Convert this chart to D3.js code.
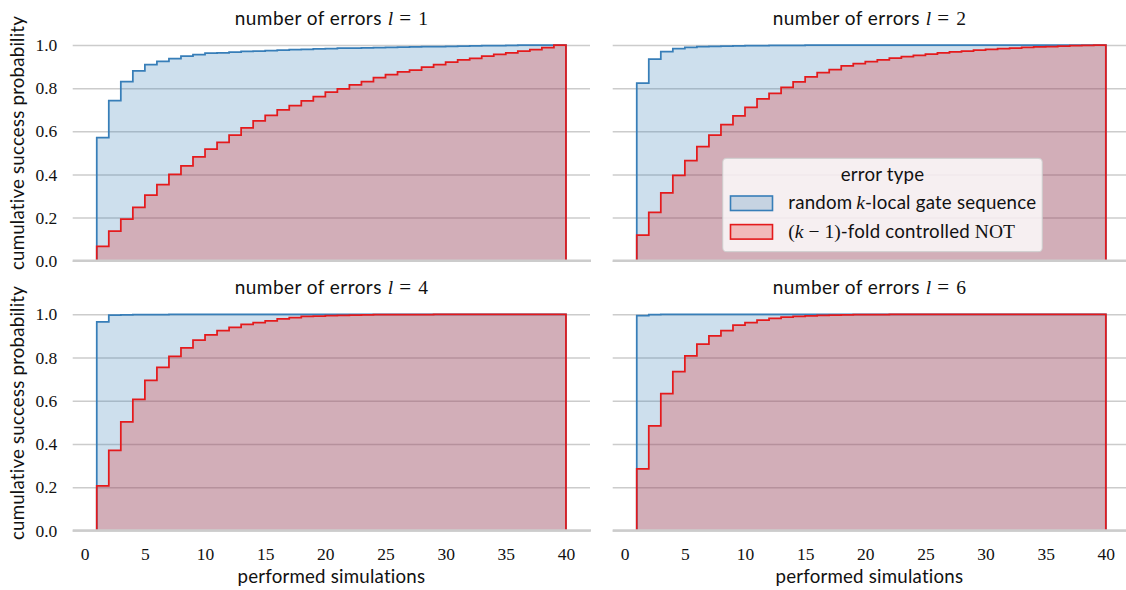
<!DOCTYPE html>
<html>
<head>
<meta charset="utf-8">
<script src="https://cdn.jsdelivr.net/npm/d3@7"></script>
<style>
  html, body { margin: 0; padding: 0; background: #fff; }
  svg { display: block; }
</style>
</head>
<body>
<div id="chart"></div>
<script>
// ---------------- data ----------------
const binStarts = d3.range(1, 40);           // bins [k, k+1], k = 1..39
const binEnd = 40;
const xTicks = [0, 5, 10, 15, 20, 25, 30, 35, 40];
const yTicks = [0.0, 0.2, 0.4, 0.6, 0.8, 1.0];
const errorCounts = [1, 2, 4, 6];
const seriesNames = ["random k-local gate sequence", "(k − 1)-fold controlled NOT"];

const blueL1 = [0.571,0.742,0.830,0.880,0.909,0.924,0.937,0.949,0.955,0.962,
                0.964,0.967,0.970,0.972,0.974,0.976,0.978,0.980,0.982,0.983,
                0.985,0.986,0.987,0.988,0.989,0.990,0.991,0.992,0.993,0.994,
                0.995,0.996,0.997,0.997,0.998,0.999,0.999,1.0,1.0];
const redL1  = [0.066,0.137,0.193,0.247,0.304,0.353,0.400,0.440,0.481,0.517,
                0.549,0.582,0.616,0.648,0.674,0.699,0.719,0.741,0.761,0.782,
                0.797,0.815,0.830,0.849,0.863,0.875,0.884,0.898,0.909,0.921,
                0.931,0.938,0.949,0.957,0.964,0.972,0.978,0.988,1.0];
const blueL2 = [0.823,0.934,0.969,0.983,0.989,0.992,0.994,0.995,0.996,0.997,
                0.997,0.998,0.998,0.998,0.999,0.999,0.999,0.999,0.999,0.999,
                1.0,1.0,1.0,1.0,1.0,1.0,1.0,1.0,1.0,1.0,
                1.0,1.0,1.0,1.0,1.0,1.0,1.0,1.0,1.0];
const redL2  = [0.119,0.224,0.315,0.395,0.464,0.529,0.582,0.631,0.671,0.711,
                0.750,0.776,0.804,0.829,0.852,0.872,0.886,0.903,0.914,0.923,
                0.931,0.939,0.946,0.952,0.958,0.963,0.968,0.972,0.976,0.980,
                0.983,0.986,0.989,0.991,0.993,0.995,0.997,0.998,1.0];
const blueL4 = [0.965,0.996,0.997,0.998,0.999,0.999,1.0,1.0,1.0,1.0,
                1.0,1.0,1.0,1.0,1.0,1.0,1.0,1.0,1.0,1.0,
                1.0,1.0,1.0,1.0,1.0,1.0,1.0,1.0,1.0,1.0,
                1.0,1.0,1.0,1.0,1.0,1.0,1.0,1.0,1.0];
const redL4  = [0.206,0.371,0.502,0.606,0.694,0.754,0.805,0.845,0.880,0.905,
                0.924,0.939,0.953,0.962,0.970,0.979,0.985,0.990,0.992,0.994,
                0.995,0.996,0.997,0.998,0.998,0.999,0.999,0.999,1.0,1.0,
                1.0,1.0,1.0,1.0,1.0,1.0,1.0,1.0,1.0];
const blueL6 = [0.994,0.999,1.0,1.0,1.0,1.0,1.0,1.0,1.0,1.0,
                1.0,1.0,1.0,1.0,1.0,1.0,1.0,1.0,1.0,1.0,
                1.0,1.0,1.0,1.0,1.0,1.0,1.0,1.0,1.0,1.0,
                1.0,1.0,1.0,1.0,1.0,1.0,1.0,1.0,1.0];
const redL6  = [0.285,0.484,0.633,0.735,0.808,0.862,0.900,0.925,0.950,0.962,
                0.973,0.981,0.987,0.990,0.993,0.995,0.996,0.997,0.998,0.999,
                0.999,1.0,1.0,1.0,1.0,1.0,1.0,1.0,1.0,1.0,
                1.0,1.0,1.0,1.0,1.0,1.0,1.0,1.0,1.0];

const blueSeries = [blueL1, blueL2, blueL4, blueL6];
const redSeries  = [redL1, redL2, redL4, redL6];

// ---------------- style / layout ----------------
const W = 1126, H = 590;
const BLUE = "#377eb8", RED = "#e41a1c";
const SANS = "Lato, 'DejaVu Sans', sans-serif";
const SERIF = "'Liberation Serif', 'DejaVu Serif', serif";
const GRID = "#cccccc";
const INK = "#111";
const SANS_SIZE = 18.7, SANS_LS = 0.2;

const colRanges = [[72.7, 590.0], [612.7, 1129.9]];
const rowRanges = [[260.7, 45.0], [530.5, 314.3]];
const xDomain = [-1, 42];

const svg = d3.select("#chart").append("svg")
  .attr("width", W).attr("height", H)
  .attr("viewBox", `0 0 ${W} ${H}`);

const panels = errorCounts.map((l, i) => ({
  l, blue: blueSeries[i], red: redSeries[i], row: Math.floor(i / 2), col: i % 2
}));

function stepPoints(vals) {
  const pts = [[binStarts[0], 0]];
  binStarts.forEach((b, i) => pts.push([b, vals[i]]));
  pts.push([binEnd, vals[vals.length - 1]]);
  pts.push([binEnd, 0]);
  return pts;
}

panels.forEach(p => {
  const x = d3.scaleLinear().domain(xDomain).range(colRanges[p.col]);
  const y = d3.scaleLinear().domain([0, 1]).range(rowRanges[p.row]);
  const g = svg.append("g");
  const x0 = colRanges[p.col][0], x1 = colRanges[p.col][1];
  const w = x1 - x0;

  // grid + y tick labels
  const yAxis = d3.axisLeft(y).tickValues(yTicks).tickSize(-w).tickPadding(15.4)
    .tickFormat(p.col === 0 ? d3.format(".1f") : () => "");
  const ga = g.append("g").attr("transform", `translate(${x0},0)`).call(yAxis);
  ga.select(".domain").remove();
  ga.selectAll(".tick line").attr("stroke", GRID).attr("stroke-width", 1.5);
  ga.selectAll(".tick text").attr("font-family", SERIF).attr("font-size", 17.5)
    .attr("fill", INK);

  const line = d3.line().x(d => x(d[0])).y(d => y(d[1])).curve(d3.curveStepAfter);

  // fills
  [[p.blue, BLUE], [p.red, RED]].forEach(([vals, c]) => {
    g.append("path").attr("d", line(stepPoints(vals)) + "Z")
      .attr("fill", c).attr("fill-opacity", 0.25).attr("stroke", "none");
  });
  // outlines
  [[p.blue, BLUE], [p.red, RED]].forEach(([vals, c]) => {
    g.append("path").attr("d", line(stepPoints(vals)))
      .attr("fill", "none").attr("stroke", c).attr("stroke-width", 1.75)
      .attr("stroke-linejoin", "miter");
  });

  // bottom spine
  g.append("line").attr("x1", x0).attr("x2", x1 + 1).attr("y1", y(0)).attr("y2", y(0))
    .attr("stroke", GRID).attr("stroke-width", 2.6);

  // x tick labels on bottom row
  if (p.row === 1) {
    const xAxis = d3.axisBottom(x).tickValues(xTicks).tickSize(0).tickPadding(17);
    const gx = g.append("g").attr("transform", `translate(0,${y(0)})`).call(xAxis);
    gx.select(".domain").remove();
    gx.selectAll(".tick text").attr("font-family", SERIF).attr("font-size", 17.5)
      .attr("fill", INK);
    g.append("text").attr("x", (x0 + Math.min(x1, W)) / 2)
      .attr("y", 583).attr("text-anchor", "middle")
      .attr("font-family", SANS).attr("font-size", SANS_SIZE)
      .attr("letter-spacing", SANS_LS).attr("fill", INK)
      .text("performed simulations");
  }

  // y label on left column
  if (p.col === 0) {
    const cy = p.row === 0 ? 143 : 413;
    g.append("text").attr("transform", `translate(24,${cy}) rotate(-90)`)
      .attr("text-anchor", "middle").attr("font-family", SANS).attr("font-size", SANS_SIZE)
      .attr("letter-spacing", SANS_LS).attr("fill", INK).text("cumulative success probability");
  }

  // title
  const cx = p.col === 0 ? 331.3 : 869.3;
  const ty = p.row === 0 ? 25 : 294.3;
  const t = g.append("text").attr("x", cx).attr("y", ty).attr("text-anchor", "middle")
    .attr("fill", INK);
  t.append("tspan").attr("font-family", SANS).attr("font-size", 19)
    .attr("letter-spacing", 0.45).text("number of errors");
  t.append("tspan").attr("font-family", SERIF).attr("font-size", 19.5).attr("dx", 6)
    .attr("font-style", "italic").text("l");
  t.append("tspan").attr("font-family", SERIF).attr("font-size", 21).attr("dx", 6).text("=");
  t.append("tspan").attr("font-family", SERIF).attr("font-size", 19.5).attr("dx", 7).text(p.l);
});

// ---------------- legend ----------------
const lg = svg.append("g");
lg.append("rect").attr("x", 722.7).attr("y", 158.3).attr("width", 319.6).attr("height", 93.4)
  .attr("rx", 4).attr("fill", "#fff").attr("fill-opacity", 0.8)
  .attr("stroke", "#cccccc").attr("stroke-opacity", 0.8).attr("stroke-width", 1.2);
lg.append("text").attr("x", 882.5).attr("y", 181).attr("text-anchor", "middle")
  .attr("font-family", SANS).attr("font-size", SANS_SIZE).attr("letter-spacing", SANS_LS)
  .attr("fill", INK).text("error type");

const legendRows = [
  { c: BLUE, y: 196, base: 209.3, parts: [
      [SANS, "normal", "random", 0], [SERIF, "italic", "k", 4], [SANS, "normal", "-local gate sequence", 0]] },
  { c: RED, y: 224.6, base: 237.6, parts: [
      [SERIF, "normal", "(", 0], [SERIF, "italic", "k", 0], [SERIF, "normal", "−", 5],
      [SERIF, "normal", "1)", 5], [SANS, "normal", "-fold controlled", 0], [SERIF, "normal", "NOT", 5]] }
];
legendRows.forEach((r, i) => {
  lg.append("rect").attr("x", 730.5).attr("y", r.y).attr("width", 42).attr("height", 14.5)
    .attr("fill", r.c).attr("fill-opacity", 0.25).attr("stroke", r.c).attr("stroke-width", 1.6);
  const t = lg.append("text").attr("x", 788.3).attr("y", r.base)
    .attr("fill", INK).attr("aria-label", seriesNames[i]);
  r.parts.forEach(([f, st, s, dx]) => {
    const ts = t.append("tspan").attr("font-family", f).attr("font-style", st)
      .attr("dx", dx).text(s);
    if (f === SANS) ts.attr("font-size", SANS_SIZE).attr("letter-spacing", SANS_LS);
    else ts.attr("font-size", 19.5);
  });
});
</script>
</body>
</html>
